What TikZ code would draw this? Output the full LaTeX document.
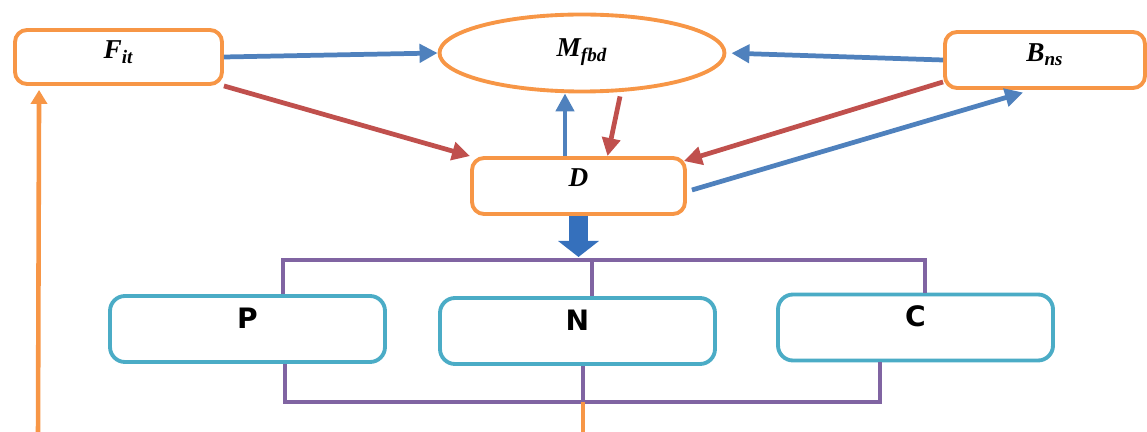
\documentclass[tikz,border=0pt]{standalone}
\usepackage{fontspec}
\setmainfont{Liberation Serif}
\newfontfamily\boxfont{DejaVu Sans}
\usetikzlibrary{calc,positioning,shapes,arrows.meta}
\definecolor{frameorange}{HTML}{F79646}
\definecolor{arrowblue}{HTML}{4F81BD}
\definecolor{arrowred}{HTML}{C0504D}
\definecolor{buspurple}{HTML}{8064A2}
\definecolor{framecyan}{HTML}{4BACC6}
\definecolor{bigblue}{HTML}{3570BC}

\begin{document}
\begin{tikzpicture}[
	obox/.style={draw=frameorange, line width=2.2pt, rounded corners=0.24cm, fill=white,
		text height=0.32cm, text depth=0.24cm, font=\fontsize{15.5}{17}\selectfont\bfseries\itshape},
	cbox/.style={draw=framecyan, line width=2.2pt, rounded corners=0.3cm, fill=white,
		minimum width=5.5cm, minimum height=1.32cm, text height=0.38cm, text depth=0.4cm,
		font=\boxfont\fontsize{16}{18}\selectfont\bfseries},
	barrow/.style={draw=arrowblue, line width=2.7pt, -{Triangle[length=0.36cm,width=0.36cm]}},
	rarrow/.style={draw=arrowred, line width=2.7pt, -{Triangle[length=0.36cm,width=0.36cm]}},
	bus/.style={draw=buspurple, line width=2.2pt},
	loopline/.style={draw=frameorange, line width=2.6pt}
	]
	\useasboundingbox (0,0) rectangle (22.94,-8.64);
	\node[obox, minimum width=4.14cm, minimum height=1.08cm] at (2.37,-1.14) (fit) {F\textsubscript{it}};
	\node[obox, ellipse, rounded corners=0pt, minimum width=5.7cm, minimum height=1.54cm, text depth=0.16cm] at (11.64,-1.06) (mfbd) {M\textsubscript{fbd}};
	\node[obox, minimum width=4.0cm, minimum height=1.12cm] at (20.9,-1.2) (bns) {B\textsubscript{ns}};
	\node[obox, minimum width=4.26cm, minimum height=1.12cm, text depth=0.28cm] at (11.57,-3.72) (d) {D};
	\node[cbox] at (4.95,-6.58) (p) {P};
	\node[cbox] at (11.55,-6.62) (n) {N};
	\node[cbox] at (18.31,-6.55) (c) {C};
	\coordinate (topl) at (5.66,-5.2);
	\coordinate (topm) at (11.84,-5.2);
	\coordinate (topr) at (18.5,-5.2);
	\coordinate (botl) at (5.7,-8.04);
	\coordinate (botm) at (11.66,-8.04);
	\coordinate (botr) at (17.6,-8.04);
	\coordinate (dtip) at (11.57,-5.14);
	\coordinate (outm) at (11.66,-8.75);
	\coordinate (loopl) at (0.76,-8.75);
	\draw[barrow] (fit.east) -- (mfbd.west);
	\draw[barrow, shorten >=0.1cm] (bns.west) -- (mfbd.east);
	\draw[rarrow] (fit.south east) -- (d.north west);
	\draw[rarrow] ([yshift=0.16cm]bns.south west) -- ([xshift=-0.06cm,yshift=-0.1cm]d.north east);
	\draw[rarrow] ([xshift=0.76cm,yshift=-0.06cm]mfbd.south) -- ([xshift=0.58cm]d.north);
	\draw[barrow] ([xshift=-0.27cm]d.north) -- ([xshift=-0.34cm]mfbd.south);
	\draw[barrow, shorten >=0.04cm] ([xshift=0.1cm,yshift=-0.08cm]d.east) -- ([xshift=-0.4cm,yshift=-0.04cm]bns.south);
	\draw[draw=bigblue, line width=0.38cm, -{Triangle[length=0.32cm,width=0.8cm]}] (d.south) -- (dtip);
	\draw[bus] (p.north -| topl) -- (topl) -- (topr) -- (c.north -| topr);
	\draw[bus] (topm) -- (n.north -| topm);
	\draw[bus] (p.south -| botl) -- (botl) -- (botr) -- (c.south -| botr);
	\draw[bus] (n.south -| botm) -- (botm);
	\draw[loopline] (botm) -- (outm);
	\draw[loopline, -{Triangle[length=0.28cm,width=0.32cm]}] (loopl) -- ([xshift=0.52cm,yshift=-0.08cm]fit.south west);
\end{tikzpicture}
\end{document}
